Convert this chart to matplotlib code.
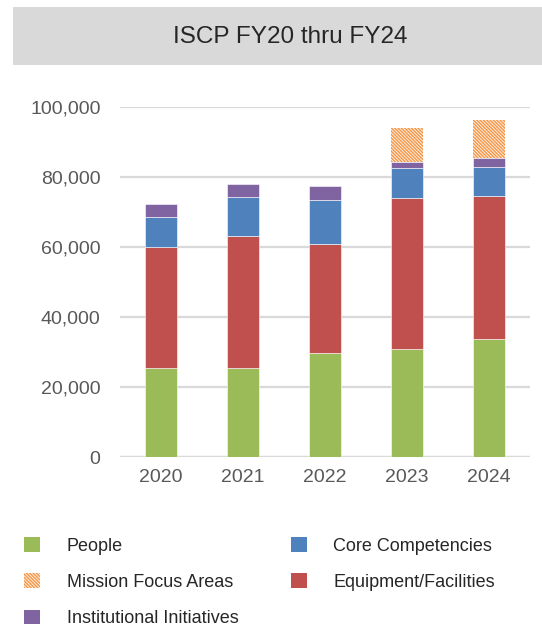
import matplotlib
matplotlib.use("Agg")
import matplotlib.pyplot as plt
import numpy as np
from matplotlib.patches import Rectangle, Patch

plt.rcParams["font.family"] = ["Liberation Sans", "DejaVu Sans"]
plt.rcParams["hatch.linewidth"] = 1.1

years = ["2020", "2021", "2022", "2023", "2024"]
people = [25400, 25300, 29800, 30900, 33800]
equipment = [34500, 37800, 31200, 43000, 40900]
core = [8800, 11100, 12500, 8800, 8300]
institutional = [3600, 3700, 4000, 1600, 2500]
mission = [0, 0, 0, 9600, 10800]

GREEN = "#9bbb59"
RED = "#c0504d"
BLUE = "#4f81bd"
PURPLE = "#8064a2"
ORANGE = "#f79646"
HATCH = "\\" * 10

W, H = 542, 626
fig = plt.figure(figsize=(W / 100, H / 100), dpi=100)

# title band
fig.patches.append(Rectangle((13 / W, 1 - 65 / H), 1 - 13 / W, 58 / H,
                             transform=fig.transFigure, facecolor="#d9d9d9",
                             edgecolor="none", zorder=0))
fig.text(290 / W, 1 - 37 / H, "ISCP FY20 thru FY24", ha="center", va="center",
         fontsize=17.5, color="#262626")

ax = fig.add_axes([120 / W, 1 - 457 / H, 410 / W, 350 / H])
x = np.arange(len(years))
width = 0.39
bottom = np.zeros(len(years))
for vals, color in [(people, GREEN), (equipment, RED), (core, BLUE),
                    (institutional, PURPLE)]:
    ax.bar(x, vals, width, bottom=bottom, color=color, edgecolor="white",
           linewidth=0.4, zorder=3)
    bottom += np.array(vals)
ax.bar(x, mission, width, bottom=bottom, facecolor="white", edgecolor=ORANGE,
       hatch=HATCH, linewidth=0, zorder=3)

ax.set_xlim(-0.5, len(years) - 0.5)
ax.set_ylim(0, 100000)
ax.set_yticks(np.arange(0, 100001, 20000))
ax.set_yticklabels([f"{v:,}" for v in range(0, 100001, 20000)])
ax.set_xticks(x)
ax.set_xticklabels(years)
ax.grid(axis="y", color="#d9d9d9", linewidth=1.6, zorder=0)
for s in ax.spines.values():
    s.set_visible(False)
ax.axhline(0, color="#d9d9d9", linewidth=1.6, zorder=2)
ax.tick_params(length=0, labelsize=14, colors="#595959", pad=9)
ax.tick_params(axis="y", pad=14)

handles = [
    Patch(facecolor=GREEN, label="People"),
    Patch(facecolor="white", edgecolor=ORANGE, hatch=HATCH, linewidth=0,
          label="Mission Focus Areas"),
    Patch(facecolor=PURPLE, label="Institutional Initiatives"),
    Patch(facecolor=BLUE, label="Core Competencies"),
    Patch(facecolor=RED, label="Equipment/Facilities"),
]
fig.legend(handles=handles, ncol=2, loc="upper left",
           bbox_to_anchor=(17 / W, 1 - 530 / H), frameon=False,
           fontsize=13, labelcolor="#262626", handlelength=0.9,
           handleheight=0.9, handletextpad=1.45, columnspacing=2.9,
           labelspacing=1.02, borderaxespad=0)

fig.savefig("out.png", dpi=100)
